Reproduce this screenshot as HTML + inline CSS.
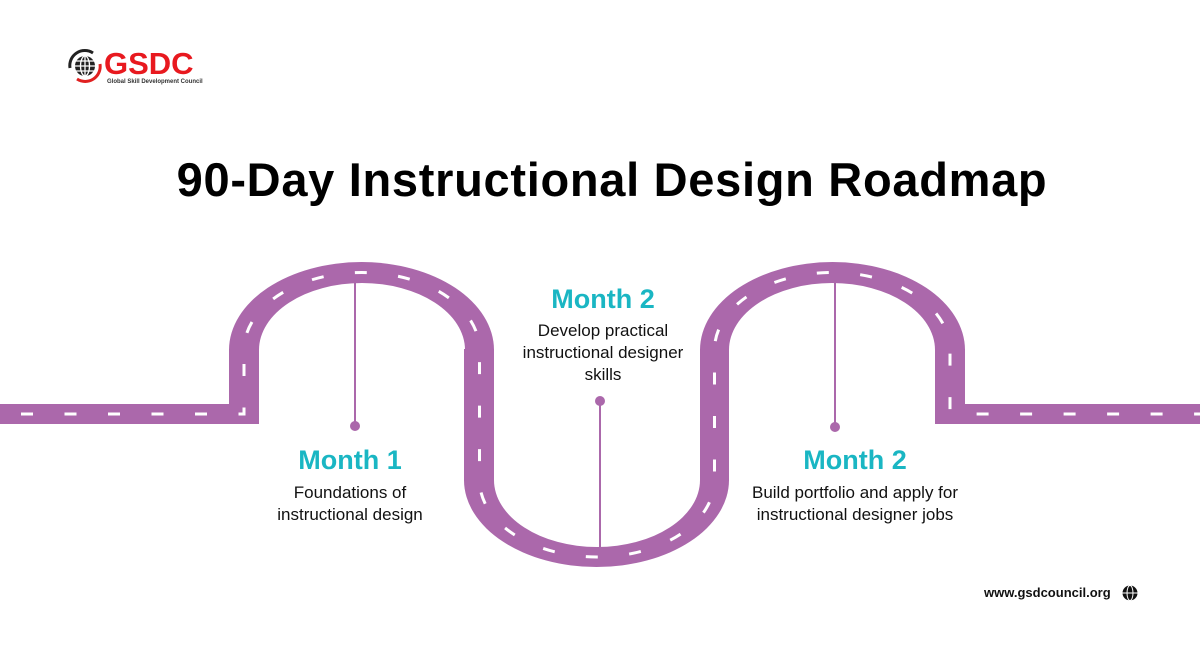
<!DOCTYPE html>
<html><head><meta charset="utf-8"><style>
html,body{margin:0;padding:0;background:#fff}
body{width:1200px;height:650px;position:relative;overflow:hidden;font-family:"Liberation Sans",Arial,sans-serif}
.t{position:absolute;text-align:center;white-space:nowrap}
.m{color:#1ab6c3;font-weight:bold;font-size:27px}
.d{color:#111;font-size:17px;line-height:22px}
</style></head><body>
<svg width="1200" height="650" style="position:absolute;left:0;top:0">
<g fill="#ab68ab">
<path d="M229,350 A132.5,88 0 0 1 494,350 L465,350 A103,67 0 0 0 259,350 Z"/>
<rect x="229" y="349" width="30" height="75"/>
<rect x="0" y="404" width="259" height="20"/>
<rect x="464" y="349" width="30" height="132"/>
<path d="M464,480 A132.5,87 0 0 0 729,480 L700,480 A103,67 0 0 1 494,480 Z"/>
<rect x="700" y="349" width="29" height="132"/>
<path d="M700,350 A132.5,88 0 0 1 965,350 L935,350 A103,67 0 0 0 729,350 Z"/>
<rect x="935" y="349" width="30" height="75"/>
<rect x="935" y="404" width="265" height="20"/>
</g>
<path d="M0,414 H244 V350 A117.75,77.5 0 0 1 479.5,350 V480 A117.5,77 0 0 0 714.5,480 V350 A117.75,77.5 0 0 1 950,350 V414 H1200" fill="none" stroke="#fff" stroke-width="3" stroke-dasharray="12 31.5" stroke-dashoffset="22.5"/>
<g stroke="#ab68ab" stroke-width="2" fill="#ab68ab">
<line x1="355" y1="283" x2="355" y2="426"/><circle cx="355" cy="426" r="4"/>
<line x1="600" y1="401" x2="600" y2="547"/><circle cx="600" cy="401" r="4"/>
<line x1="835" y1="283" x2="835" y2="427"/><circle cx="835" cy="427" r="4"/>
</g>
<g transform="translate(85,66)">
<circle r="10" fill="#222"/>
<g stroke="#fff" stroke-width="1.3" fill="none"><ellipse rx="4.5" ry="10"/><line x1="-10" y1="0" x2="10" y2="0"/><line x1="0" y1="-10" x2="0" y2="10"/><line x1="-9" y1="-5" x2="9" y2="-5"/><line x1="-9" y1="5" x2="9" y2="5"/></g>
<path d="M-15,2 A15,15 0 0 1 8,-13" stroke="#222" stroke-width="3" fill="none"/>
<path d="M15,-2 A15,15 0 0 1 -8,13" stroke="#e02020" stroke-width="3" fill="none"/>
</g>
<g transform="translate(1130,593)">
<circle r="7.5" fill="#111"/>
<g stroke="#fff" stroke-width="1" fill="none"><ellipse rx="3" ry="7.5"/><line x1="-7.5" y1="0" x2="7.5" y2="0"/></g>
</g>
</svg>
<div class="t" style="left:104px;top:46px;font-size:31px;font-weight:bold;color:#e8191f">GSDC</div>
<div class="t" style="left:107px;top:79px;font-size:6px;font-weight:bold;color:#333">Global Skill Development Council</div>
<div class="t" style="left:12px;width:1200px;top:152px;font-size:47px;font-weight:bold;color:#000;letter-spacing:0.7px">90-Day Instructional Design Roadmap</div>
<div class="t m" style="left:250px;width:200px;top:445px">Month 1</div>
<div class="t d" style="left:250px;width:200px;top:482px">Foundations of<br>instructional design</div>
<div class="t m" style="left:503px;width:200px;top:284px">Month 2</div>
<div class="t d" style="left:503px;width:200px;top:320px">Develop practical<br>instructional designer<br>skills</div>
<div class="t m" style="left:755px;width:200px;top:445px">Month 2</div>
<div class="t d" style="left:705px;width:300px;top:482px">Build portfolio and apply for<br>instructional designer jobs</div>
<div class="t" style="left:984px;top:585px;font-size:13px;font-weight:bold;color:#111">www.gsdcouncil.org</div>
</body></html>
